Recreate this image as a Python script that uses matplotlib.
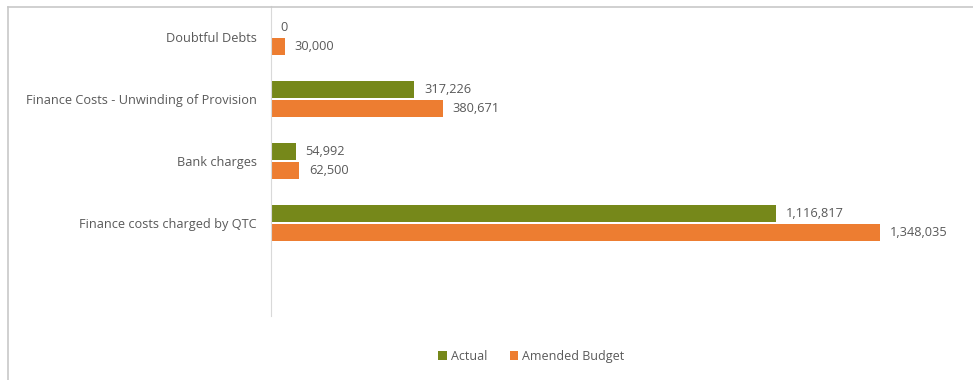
import numpy as np
import matplotlib
matplotlib.use('Agg')
import matplotlib.pyplot as plt
from matplotlib.lines import Line2D

categories = ['Doubtful Debts', 'Finance Costs - Unwinding of Provision',
              'Bank charges', 'Finance costs charged by QTC']
actual = [0, 317226, 54992, 1116817]
budget = [30000, 380671, 62500, 1348035]
series_names = ['Actual', 'Amended Budget']

green = '#76881A'
orange = '#ED7D31'
grey = '#595959'

plt.rcParams['font.family'] = ['Open Sans', 'DejaVu Sans']

fig = plt.figure(figsize=(9.73, 3.80), dpi=100)
ax = fig.add_axes([271 / 973, 1 - 316 / 380, (949 - 271) / 973, 310 / 380])

y = np.arange(len(categories))
h = 0.28
ax.barh(y - 0.155, actual, height=h, color=green, label=series_names[0])
ax.barh(y + 0.155, budget, height=h, color=orange, label=series_names[1])

for yi, v in zip(y, actual):
    ax.annotate(f'{v:,}', (v, yi - 0.155), xytext=(7, 0), textcoords='offset points',
                va='center', ha='left', fontsize=9.2, color=grey)
for yi, v in zip(y, budget):
    ax.annotate(f'{v:,}', (v, yi + 0.155), xytext=(7, 0), textcoords='offset points',
                va='center', ha='left', fontsize=9.2, color=grey)

ax.set_xlim(0, 1500000)
ax.set_ylim(4.5, -0.5)
ax.set_yticks(y)
ax.set_yticklabels(categories, fontsize=9.2, color=grey)
ax.tick_params(axis='y', length=0, pad=10)
ax.set_xticks([])
for s in ['top', 'right', 'bottom']:
    ax.spines[s].set_visible(False)
ax.spines['left'].set_color('#D9D9D9')

fig.legend(loc='lower center', bbox_to_anchor=(0.546, 0.015), ncol=2, frameon=False,
           fontsize=9, labelcolor=grey, handlelength=0.7, handleheight=0.7,
           handletextpad=0.3, columnspacing=1.8)

# outer chart border (top and left visible)
fig.add_artist(Line2D([8 / 973, 8 / 973], [0, 1 - 7 / 380], color='#C8C8C8', lw=1.2,
                      transform=fig.transFigure))
fig.add_artist(Line2D([8 / 973, 1], [1 - 7 / 380, 1 - 7 / 380], color='#C8C8C8', lw=1.2,
                      transform=fig.transFigure))

fig.savefig('out.png', dpi=100)
